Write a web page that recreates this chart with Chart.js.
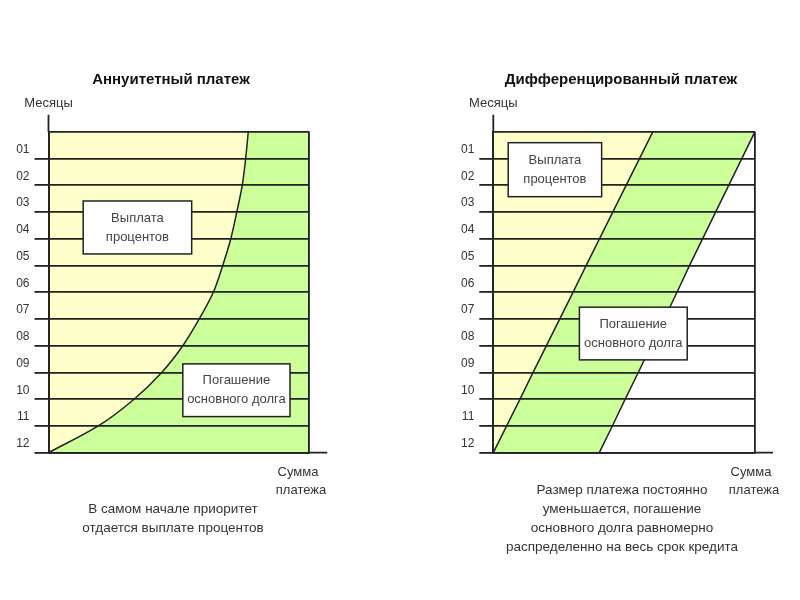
<!DOCTYPE html>
<html>
<head>
<meta charset="utf-8">
<script src="https://cdn.jsdelivr.net/npm/chart.js@4"></script>
<style>
  body { margin: 0; background: #fff; }
  #wrap { position: relative; width: 800px; height: 600px; }
  canvas { position: absolute; top: 0; }
</style>
</head>
<body>
<div id="wrap">
  <canvas id="annuity" width="400" height="600" style="left:0"></canvas>
  <canvas id="diff" width="400" height="600" style="left:400px"></canvas>
</div>
<script>
// month boundaries: 0 is the top edge, 12 the bottom edge
const months = [0, 1, 2, 3, 4, 5, 6, 7, 8, 9, 10, 11, 12];
const monthLabels = ["01", "02", "03", "04", "05", "06", "07", "08", "09", "10", "11", "12"];

// annuity: where interest ends and the (constant) payment ends, % of the amount axis
const annuityInterest = [76.6, 75.6, 74.3, 72.2, 69.9, 66.8, 63.2, 57.8, 51.5, 43.4, 32.8, 19.1, 0];
const annuityPayment = [100, 100, 100, 100, 100, 100, 100, 100, 100, 100, 100, 100, 100];

// differentiated: interest shrinks, principal part stays the same width
const diffInterest = [61, 55.9, 50.8, 45.7, 40.6, 35.5, 30.5, 25.4, 20.3, 15.2, 10.2, 5.1, 0];
const diffPayment = [100, 95, 90, 85, 80, 75, 70.2, 65.3, 60.3, 55.4, 50.4, 45.5, 40.5];

const ink = "#222";
const yellow = "#ffffcc";
const green = "#ccff99";
const font = '"Liberation Sans", Arial, sans-serif';

// titles, captions, boxed labels and the axis stubs
const panelText = {
  id: "panelText",
  afterDraw(chart, args, opts) {
    const ctx = chart.ctx;
    const { left, right, top, bottom } = chart.chartArea;
    const xs = chart.scales.x;
    const ys = chart.scales.y;
    ctx.save();

    ctx.strokeStyle = ink;
    ctx.lineWidth = 1.8;
    ctx.beginPath();
    ctx.moveTo(left, top);
    ctx.lineTo(left, top - 17);
    ctx.moveTo(right, bottom);
    ctx.lineTo(right + 18, bottom);
    ctx.stroke();

    ctx.textAlign = "center";
    ctx.textBaseline = "middle";
    ctx.fillStyle = "#111";
    ctx.font = "bold 15px " + font;
    ctx.fillText(opts.title, opts.titleX, 80);

    ctx.fillStyle = "#333";
    ctx.font = "13px " + font;
    ctx.fillText("Месяцы", left, 103);
    ctx.fillText("Сумма", opts.sumX, 472);
    ctx.fillText("платежа", opts.sumX + 3, 490);

    ctx.font = "13.5px " + font;
    opts.caption.forEach((line, i) => {
      ctx.fillText(line, opts.captionX, opts.captionY + i * 18.7);
    });

    ctx.font = "13px " + font;
    ctx.lineWidth = 1.5;
    opts.boxes.forEach((b) => {
      const x0 = xs.getPixelForValue(b.x[0]);
      const x1 = xs.getPixelForValue(b.x[1]);
      const y0 = ys.getPixelForValue(b.y[0]);
      const y1 = ys.getPixelForValue(b.y[1]);
      ctx.fillStyle = "#fff";
      ctx.fillRect(x0, y0, x1 - x0, y1 - y0);
      ctx.strokeRect(x0, y0, x1 - x0, y1 - y0);
      ctx.fillStyle = "#444";
      const mid = (y0 + y1) / 2;
      ctx.fillText(b.text[0], (x0 + x1) / 2, mid - 9.5);
      ctx.fillText(b.text[1], (x0 + x1) / 2, mid + 9.5);
    });
    ctx.restore();
  },
};

function makePanel(id, interest, payment, padding, text, smooth) {
  const toPoints = (vals) => months.map((m, i) => ({ x: vals[i], y: m }));
  new Chart(id, {
    type: "line",
    data: {
      datasets: [
        {
          data: toPoints(interest),
          fill: "origin",
          backgroundColor: yellow,
          borderColor: ink,
          borderWidth: 1.5,
          pointRadius: 0,
          cubicInterpolationMode: smooth ? "monotone" : "default",
        },
        {
          data: toPoints(payment),
          fill: "-1",
          backgroundColor: green,
          borderColor: ink,
          borderWidth: 1.5,
          pointRadius: 0,
        },
      ],
    },
    options: {
      indexAxis: "y",
      responsive: false,
      animation: false,
      layout: { padding: padding },
      plugins: {
        legend: { display: false },
        tooltip: { enabled: false },
        panelText: text,
      },
      scales: {
        x: {
          type: "linear",
          min: 0,
          max: 100,
          ticks: { display: false, stepSize: 100 },
          grid: { color: ink, lineWidth: 1.8, drawTicks: false, z: 1 },
          border: { color: ink, width: 1.8, z: 1 },
          afterFit: (s) => {
            s.height = 147.3;
          },
        },
        y: {
          type: "linear",
          reverse: true,
          min: 0,
          max: 12,
          ticks: {
            stepSize: 1,
            padding: 5,
            labelOffset: -9,
            color: "#333",
            font: { size: 12, family: font },
            callback: (v) => (v === 0 ? "" : monthLabels[v - 1]),
          },
          grid: {
            color: ink,
            lineWidth: 1.8,
            tickLength: 14,
            z: 1,
            tickColor: (c) => (c.tick && c.tick.value === 0 ? "rgba(0,0,0,0)" : ink),
          },
          border: { color: ink, width: 1.8, z: 1 },
          afterFit: (s) => {
            s.width = 48.5;
          },
        },
      },
    },
    plugins: [panelText],
  });
}

makePanel("annuity", annuityInterest, annuityPayment,
  { left: 0, top: 131.7, right: 90.7, bottom: 0 },
  {
    title: "Аннуитетный платеж",
    titleX: 171,
    sumX: 298,
    captionX: 173,
    captionY: 509.5,
    caption: ["В самом начале приоритет", "отдается выплате процентов"],
    boxes: [
      { text: ["Выплата", "процентов"], x: [13.3, 54.9], y: [2.59, 4.57] },
      { text: ["Погашение", "основного долга"], x: [51.5, 92.6], y: [8.68, 10.65] },
    ],
  },
  true
);

makePanel("diff", diffInterest, diffPayment,
  { left: 44.8, top: 131.7, right: 45, bottom: 0 },
  {
    title: "Дифференцированный платеж",
    titleX: 221,
    sumX: 351,
    captionX: 222,
    captionY: 490.7,
    caption: [
      "Размер платежа постоянно",
      "уменьшается, погашение",
      "основного долга равномерно",
      "распределенно на весь срок кредита",
    ],
    boxes: [
      { text: ["Выплата", "процентов"], x: [5.7, 41.4], y: [0.41, 2.43] },
      { text: ["Погашение", "основного долга"], x: [32.9, 74.1], y: [6.56, 8.53] },
    ],
  },
  false
);
</script>
</body>
</html>
